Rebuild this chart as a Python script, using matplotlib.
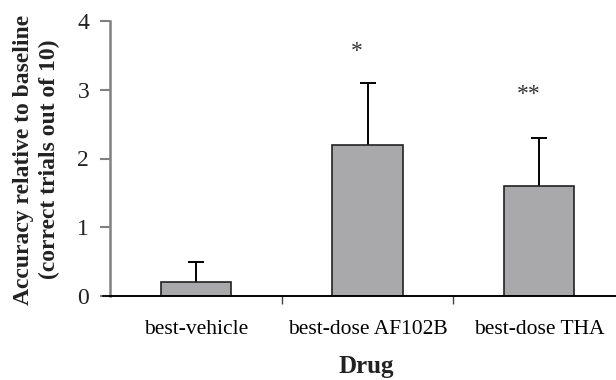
import matplotlib
matplotlib.use('Agg')
import matplotlib.pyplot as plt
import numpy as np

# values
drugs = ['best-vehicle', 'best-dose AF102B', 'best-dose THA']
accuracy = [0.2, 2.2, 1.6]
sem = [0.3, 0.9, 0.7]
stars = ['', '*', '**']
star_y = [0, 3.55, 2.93]

plt.rcParams['font.family'] = ['Liberation Serif', 'DejaVu Serif']

fig = plt.figure(figsize=(6.16, 3.8), dpi=100)
ax = fig.add_axes([110 / 616, 84 / 380, 515 / 616, 275 / 380])

x = np.arange(len(drugs))
top = np.array(accuracy) + np.array(sem)
ax.bar(x, accuracy, width=0.41, color='#a9a9ac', edgecolor='#222222', linewidth=1.2, zorder=2)
ax.vlines(x, accuracy, top, color='black', lw=1.4, zorder=1)
ax.plot(x, top, ls='none', marker='_', markersize=11, markeredgewidth=1.4, color='black', zorder=3)

for xi, s, sy in zip(x, stars, star_y):
    if s:
        ax.text(xi - 0.06, sy, s, ha='center', va='center', fontsize=17, color='#333333')

ax.set_xlim(-0.5, 2.5)
ax.set_ylim(0, 4)
ax.set_yticks([0, 1, 2, 3, 4])
ax.set_xticks(x)
ax.set_xticklabels(drugs, fontsize=15.5)
ax.set_xticks([0.5, 1.5], minor=True)
ax.tick_params(axis='x', which='major', length=0, pad=17)
ax.tick_params(axis='x', which='minor', length=6, width=1, color='#444444', direction='out')
ax.tick_params(axis='y', length=7, width=1.5, color='#808080', labelsize=17, pad=8,
               labelcolor='#222222')

for side in ['top', 'right']:
    ax.spines[side].set_visible(False)
ax.spines['left'].set_color('#808080')
ax.spines['left'].set_linewidth(1.8)
ax.spines['bottom'].set_color('black')
ax.spines['bottom'].set_linewidth(1.2)

# the baseline runs a little to the left of the y axis
ax.plot([-0.54, 2.5], [0, 0], color='black', lw=1.2, clip_on=False, zorder=4)

fig.text(37 / 616, 0.58, 'Accuracy relative to baseline\n(correct trials out of 10)',
         rotation=90, ha='center', va='center', fontsize=17, fontweight='bold',
         linespacing=1.3, color='#222222')
fig.text(366 / 616, 1.5 / 380, 'Drug', ha='center', va='bottom', fontsize=18,
         fontweight='bold', color='#222222')

fig.savefig('out.png', dpi=100)
